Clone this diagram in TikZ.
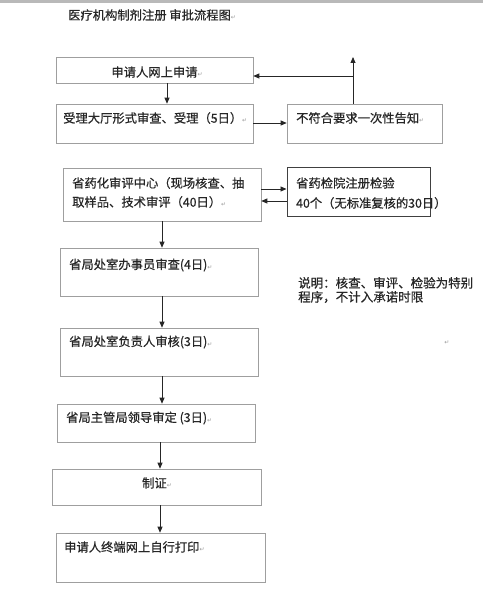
\documentclass[tikz,border=0pt]{standalone}
\usepackage{fontspec}
\usetikzlibrary{arrows.meta}
\newfontfamily\cjk{Noto Sans CJK SC}[FakeBold=0.6]
\newfontfamily\dejavu{DejaVu Sans}
\newcommand\retmark{{\dejavu\fontsize{6}{6}\selectfont\textcolor{gray!80}{↵}}}
\tikzset{
  box/.style={draw=gray!75, line width=0.6pt, rectangle, inner sep=0pt},
  boldbox/.style={draw=black!75, line width=1pt, rectangle, inner sep=0pt},
  txt/.style={font=\cjk\fontsize{12.3}{14}\selectfont, inner sep=0pt, text=black!85, align=left},
  arr/.style={-{Triangle[length=6pt,width=5pt]}, line width=0.8pt, black!85},
  ln/.style={line width=0.8pt, black!85}
}
\begin{document}
\begin{tikzpicture}[x=1pt,y=-1pt]
\useasboundingbox (0,0) rectangle (483,609);
\fill[gray!55] (0,0) rectangle (483,3);
\node[txt, anchor=west] (title) at (68,15) {医疗机构制剂注册 审批流程图\retmark};

\node[box, minimum width=197, minimum height=26] (b1) at (154.5,70) {};
\node[txt] (t1) at (157,72) {申请人网上申请\retmark};

\node[box, minimum width=197, minimum height=39] (b2) at (154.5,123.5) {};
\node[txt, anchor=west] (t2) at (63,118) {受理大厅形式审查、受理（5日）\retmark};

\node[box, minimum width=155, minimum height=39] (b3) at (364.5,123.5) {};
\node[txt, anchor=west] (t3) at (296,118) {不符合要求一次性告知\retmark};

\node[box, minimum width=198, minimum height=53] (b4) at (162,194.5) {};
\node[txt, anchor=west] (t4a) at (72,183) {省药化审评中心（现场核查、抽};
\node[txt, anchor=west] (t4b) at (72,202) {取样品、技术审评（40日）\retmark};

\node[boldbox, minimum width=143, minimum height=49] (b5) at (358.5,192.5) {};
\node[txt, anchor=west] (t5a) at (296,183) {省药检院注册检验};
\node[txt, anchor=west] (t5b) at (296,203) {40个（无标准复核的30日）};

\node[box, minimum width=198, minimum height=48] (b6) at (159,272) {};
\node[txt, anchor=west] (t6) at (69,265) {省局处室办事员审查(4日)\retmark};

\node[txt, anchor=west, font=\cjk\fontsize{12.5}{14}\selectfont] (note) at (298,290) {说明：核查、审评、检验为特别\\程序，不计入承诺时限};

\node[box, minimum width=198, minimum height=48] (b7) at (159,352) {};
\node[txt, anchor=west] (t7) at (69,342) {省局处室负责人审核(3日)\retmark};
\node[inner sep=0pt] (stray) at (447,343) {\retmark};

\node[box, minimum width=198, minimum height=38] (b8) at (156,423) {};
\node[txt, anchor=west] (t8) at (66,418) {省局主管局领导审定 (3日)\retmark};

\node[box, minimum width=209, minimum height=36] (b9) at (156.5,487) {};
\node[txt] (t9) at (157,483) {制证\retmark};

\node[box, minimum width=209, minimum height=49] (b10) at (160.5,557.5) {};
\node[txt, anchor=west] (t10) at (64,547) {申请人终端网上自行打印\retmark};

% connectors
\draw[arr] (b1.south -| 167,0) -- (b2.north -| 167,0);
\draw[arr] (b2.east |- 0,123) -- (b3.west |- 0,123);
\coordinate (up) at (353,57);
\coordinate (jn) at (353,76);
\draw[arr] (b3.north -| 353,0) -- (up);
\draw[arr] (jn) -- (b1.east |- jn);
\draw[arr] (b4.east |- 0,189) -- (b5.west |- 0,189);
\draw[arr] (b5.west |- 0,201) -- (b4.east |- 0,201);
\draw[arr] (b4.south -| 162,0) -- (b6.north -| 162,0);
\draw[arr] (b6.south -| 162,0) -- (b7.north -| 162,0);
\draw[arr] (b7.south -| 162,0) -- (b8.north -| 162,0);
\draw[arr] (b8.south -| 160,0) -- (b9.north -| 160,0);
\draw[arr] (b9.south -| 160,0) -- (b10.north -| 160,0);
\end{tikzpicture}
\end{document}
